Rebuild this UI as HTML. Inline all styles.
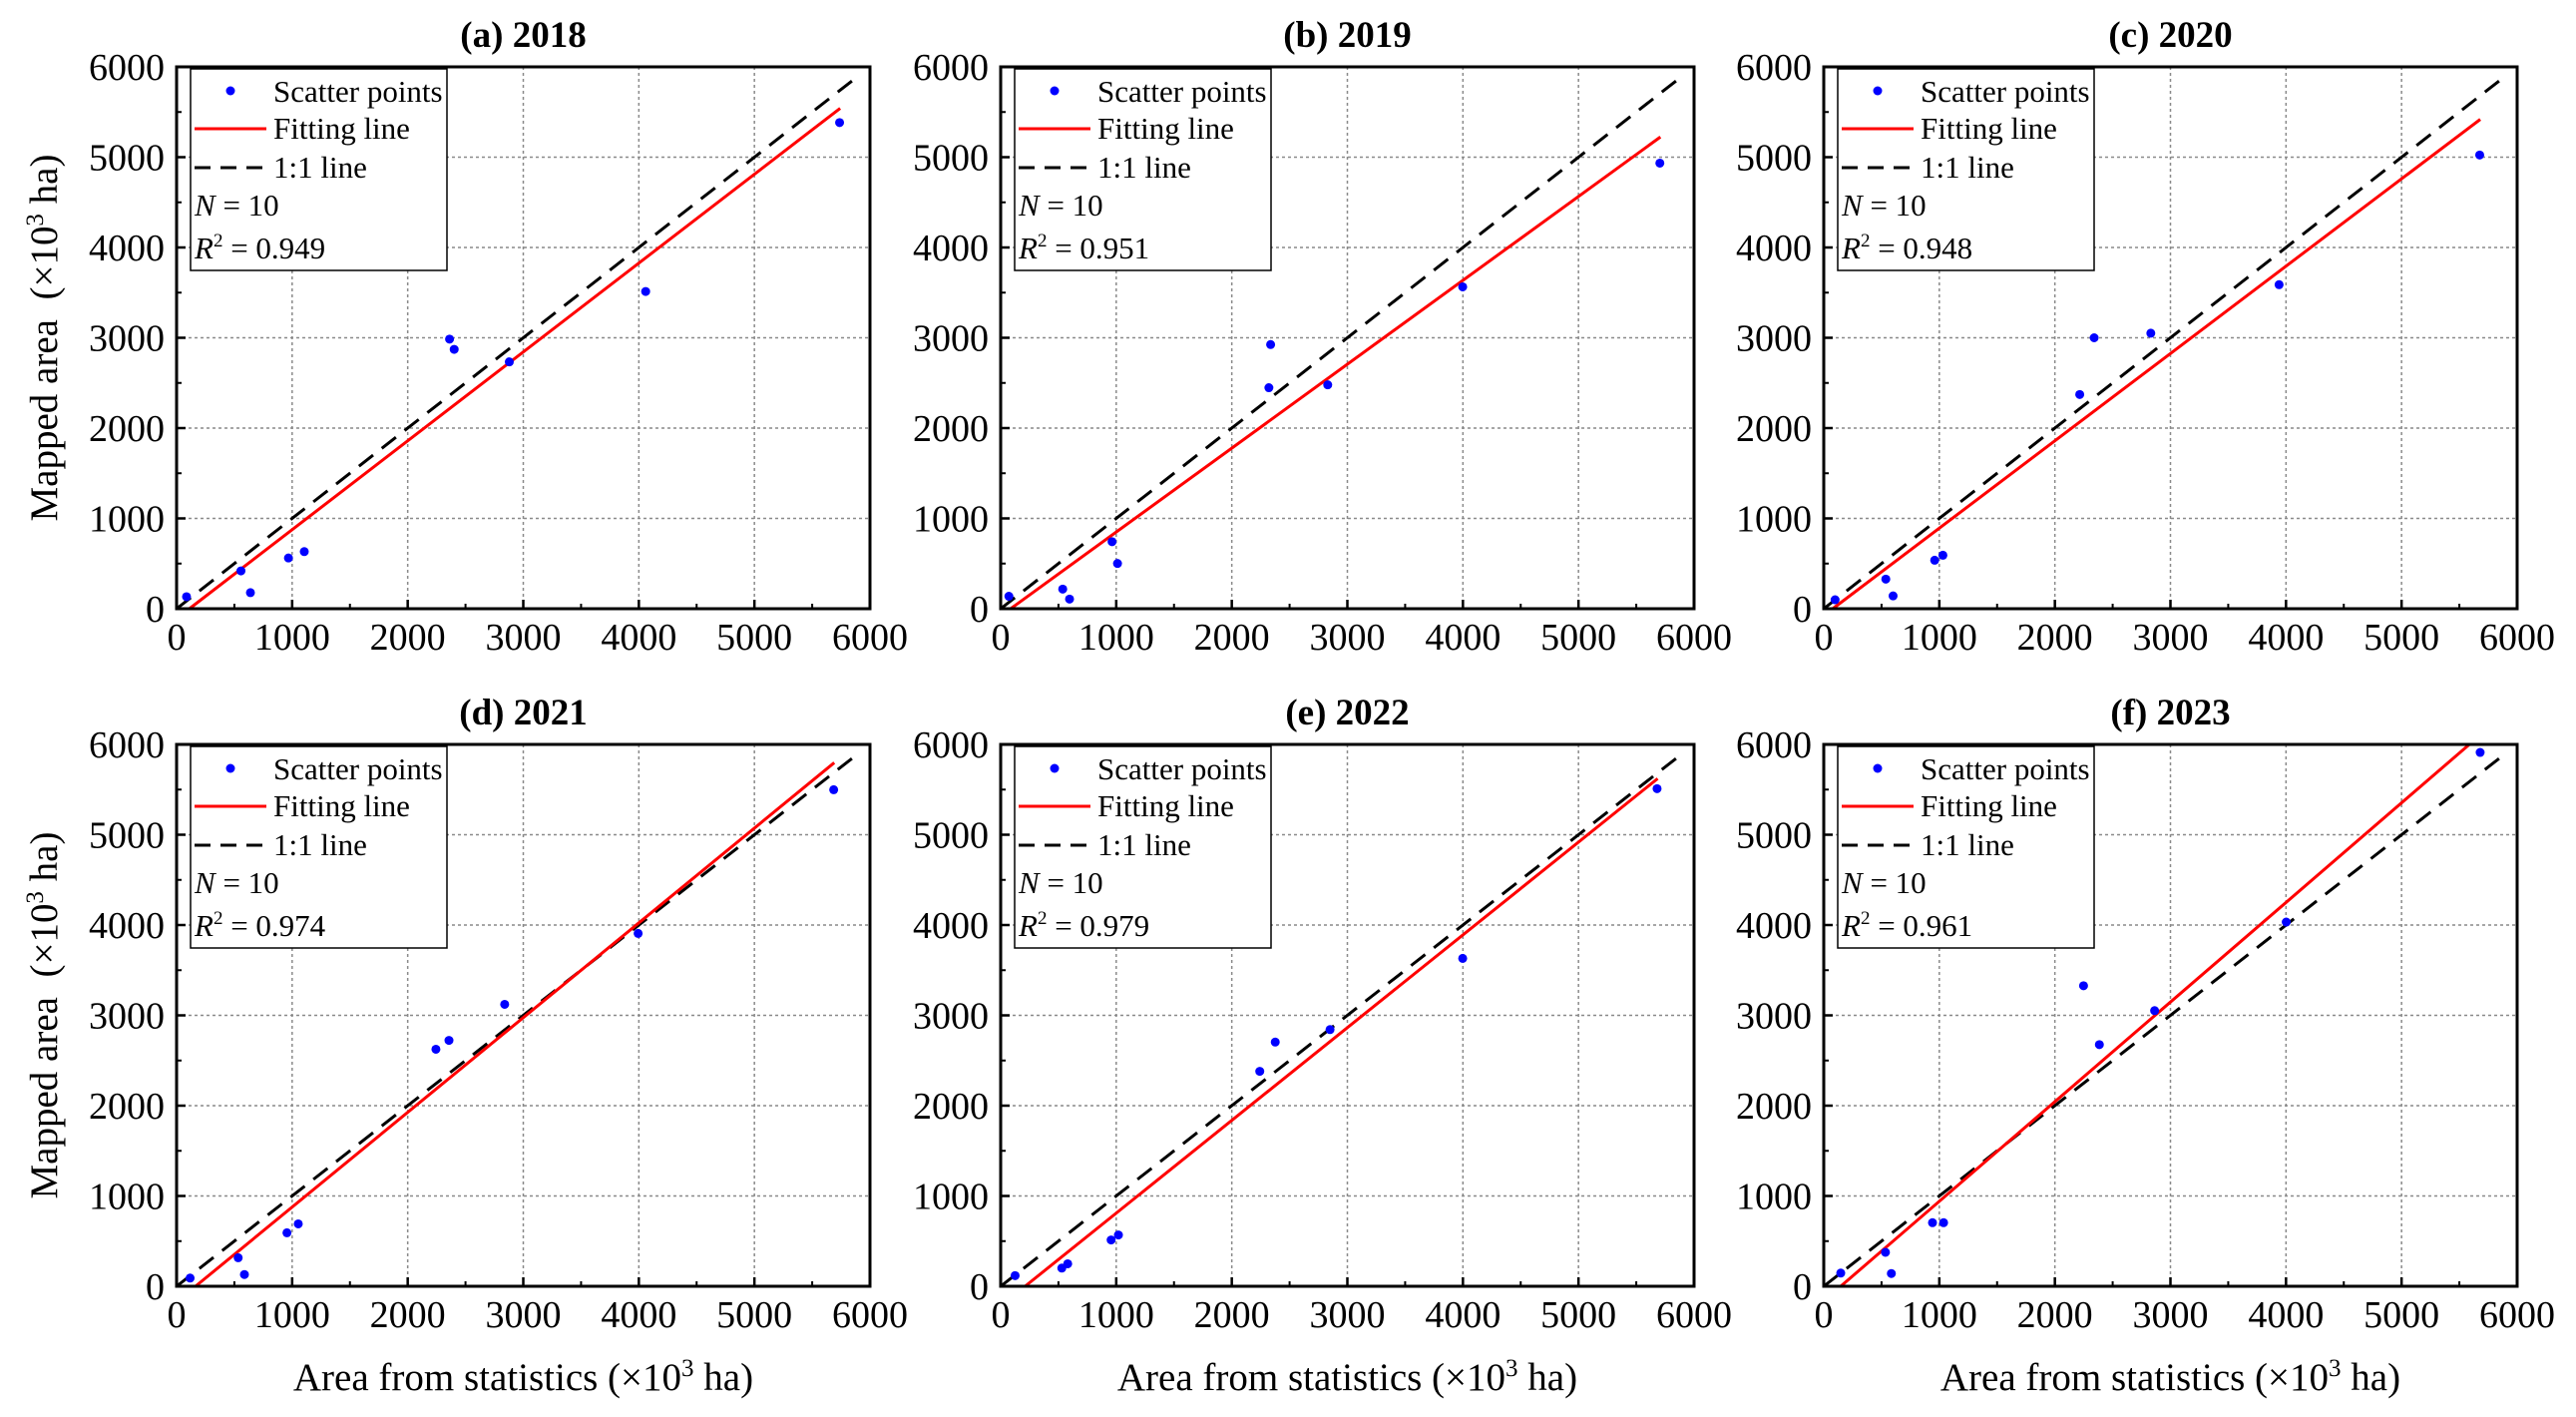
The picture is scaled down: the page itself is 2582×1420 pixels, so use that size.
<!DOCTYPE html>
<html><head><meta charset="utf-8"><style>
html,body{margin:0;padding:0;background:#fff;}
svg{display:block;font-family:"Liberation Serif","Times New Roman",serif;}
</style></head><body>
<svg id="fig" width="2582" height="1420" viewBox="0 0 2582 1420" xmlns="http://www.w3.org/2000/svg"></svg>
<script>
const panelTitles = ["(a) 2018","(b) 2019","(c) 2020","(d) 2021","(e) 2022","(f) 2023"];
const statX2018 = [86,557,639,968,1105,2362,2402,2879,4059,5737];
const mapY2018  = [133,419,178,562,632,2985,2872,2733,3513,5383];
const statX2019 = [71,537,596,964,1011,2321,2336,2830,3998,5704];
const mapY2019  = [138,217,107,742,501,2447,2925,2479,3564,4934];
const statX2020 = [98,537,600,960,1031,2215,2340,2830,3940,5676];
const mapY2020  = [99,328,142,537,592,2372,3000,3051,3588,5024];
const statX2021 = [117,533,587,955,1053,2244,2357,2839,3994,5686];
const mapY2021  = [91,316,130,592,691,2625,2723,3122,3907,5498];
const statX2022 = [125,529,580,956,1019,2242,2376,2850,3998,5680];
const mapY2022  = [118,201,249,513,568,2380,2704,2842,3631,5510];
const statX2023 = [147,534,585,941,1037,2248,2385,2863,4002,5680];
const mapY2023  = [146,376,141,704,704,3328,2676,3052,4033,5911];
const fitSlopes = [0.984,0.929,0.967,1.049,1.027,1.103];
const fitIntercepts = [-109,-80,-75,-172,-217,-162];
const r2Labels = ["0.949","0.951","0.948","0.974","0.979","0.961"];
const nLabels = ["10","10","10","10","10","10"];
const tickLabels = ["0","1000","2000","3000","4000","5000","6000"];
const tickValues = [0,1000,2000,3000,4000,5000,6000];
const minorValues = [500,1500,2500,3500,4500,5500];

const xsAll = [statX2018,statX2019,statX2020,statX2021,statX2022,statX2023];
const ysAll = [mapY2018,mapY2019,mapY2020,mapY2021,mapY2022,mapY2023];
const NS = "http://www.w3.org/2000/svg";
const svg = document.getElementById('fig');
const colLeft = [177,1003,1828];
const rowTop = [67,746];
const PW = 695, PH = 543, VMAX = 6000;

function mk(tag, attrs, parent){
  const e = document.createElementNS(NS, tag);
  for (const k in attrs) e.setAttribute(k, attrs[k]);
  (parent||svg).appendChild(e);
  return e;
}

for (let p=0;p<6;p++){
  const L = colLeft[p%3], T = rowTop[Math.floor(p/3)];
  const sx = v => L + v/VMAX*PW;
  const sy = v => T + PH - v/VMAX*PH;
  const g = mk('g',{});
  
  

  for (let i=1;i<tickValues.length-1;i++){
    const gx = mk('line',{x1:sx(tickValues[i]),x2:sx(tickValues[i]),y1:T,y2:T+PH,stroke:'#8a8a8a','stroke-width':1.5,'stroke-dasharray':'3 3'},g);
    
    
    const gy = mk('line',{x1:L,x2:L+PW,y1:sy(tickValues[i]),y2:sy(tickValues[i]),stroke:'#8a8a8a','stroke-width':1.5,'stroke-dasharray':'3 3'},g);
    
    
  }
  tickValues.forEach((v,i)=>{
    mk('line',{x1:sx(v),x2:sx(v),y1:T+PH,y2:T+PH-9,stroke:'#000','stroke-width':2.5},g);
    mk('line',{x1:L,x2:L+9,y1:sy(v),y2:sy(v),stroke:'#000','stroke-width':2.5},g);
    const xt = mk('text',{x:sx(v),y:T+PH+41,'font-size':38,'text-anchor':'middle'},g);
    xt.textContent = tickLabels[i];
    
    
    const yt = mk('text',{x:L-12,y:sy(v)+13,'font-size':38,'text-anchor':'end'},g);
    yt.textContent = tickLabels[i];
    
    
  });
  minorValues.forEach(v=>{
    mk('line',{x1:sx(v),x2:sx(v),y1:T+PH,y2:T+PH-5,stroke:'#000','stroke-width':2},g);
    mk('line',{x1:L,x2:L+5,y1:sy(v),y2:sy(v),stroke:'#000','stroke-width':2},g);
  });

  const one = mk('line',{x1:sx(0),y1:sy(0),x2:sx(5900),y2:sy(5900),stroke:'#000','stroke-width':3,'stroke-dasharray':'18 11'},g);
  
  

  const m = fitSlopes[p], b = fitIntercepts[p];
  let x0 = -b/m; if (x0<0) x0 = 0;
  let x1 = Math.max(...xsAll[p]) + 5;
  if (m*x1+b > VMAX) x1 = (VMAX-b)/m;
  const fit = mk('line',{x1:sx(x0),y1:sy(m*x0+b),x2:sx(x1),y2:sy(m*x1+b),stroke:'#ff0000','stroke-width':3},g);
  
  

  xsAll[p].forEach((xv,i)=>{
    const c = mk('circle',{cx:sx(xv),cy:sy(ysAll[p][i]),r:4.5,fill:'#0000ff'},g);
    
    
  });

  const fr = mk('rect',{x:L,y:T,width:PW,height:PH,fill:'none',stroke:'#000','stroke-width':3},g);
  
  

  const lg = mk('g',{},g);
  
  
  mk('rect',{x:L+14,y:T+2,width:257,height:202,fill:'#fff',stroke:'#000','stroke-width':1.5},lg);
  mk('circle',{cx:L+54,cy:T+24,r:4.5,fill:'#0000ff'},lg);
  mk('line',{x1:L+18,x2:L+90,y1:T+62,y2:T+62,stroke:'#ff0000','stroke-width':3},lg);
  mk('line',{x1:L+18,x2:L+90,y1:T+101,y2:T+101,stroke:'#000','stroke-width':3,'stroke-dasharray':'16 10'},lg);
  const lt = ['Scatter points','Fitting line','1:1 line'];
  lt.forEach((s,i)=>{
    const t = mk('text',{x:L+97,y:T+[35,72,111][i],'font-size':31},lg);
    t.textContent = s;
    
    
  });
  const nt = mk('text',{x:L+18,y:T+149,'font-size':31},lg);
  nt.innerHTML = '<tspan font-style="italic">N</tspan> = '+nLabels[p];
  
  
  const rt = mk('text',{x:L+18,y:T+192,'font-size':31},lg);
  rt.innerHTML = '<tspan font-style="italic">R</tspan><tspan font-size="19" dy="-12">2</tspan><tspan dy="12"> = '+r2Labels[p]+'</tspan>';
  
  

  const tt = mk('text',{x:L+PW/2,y:T-20,'font-size':37,'font-weight':'bold','text-anchor':'middle'},g);
  tt.textContent = panelTitles[p];
  
  

  if (p%3===0){
    const yl = mk('text',{x:0,y:0,'font-size':39,'text-anchor':'middle',transform:'translate(57,'+(T+PH/2)+') rotate(-90)'},g);
    yl.innerHTML = 'Mapped area&#160;&#160;(×10<tspan font-size="25" dy="-14">3</tspan><tspan dy="14"> ha)</tspan>';
    
    
  }
  if (p>=3){
    const xl = mk('text',{x:L+PW/2,y:1393,'font-size':39,'text-anchor':'middle'},g);
    xl.innerHTML = 'Area from statistics (×10<tspan font-size="25" dy="-14">3</tspan><tspan dy="14"> ha)</tspan>';
    
    
  }
}
</script>
</body></html>
